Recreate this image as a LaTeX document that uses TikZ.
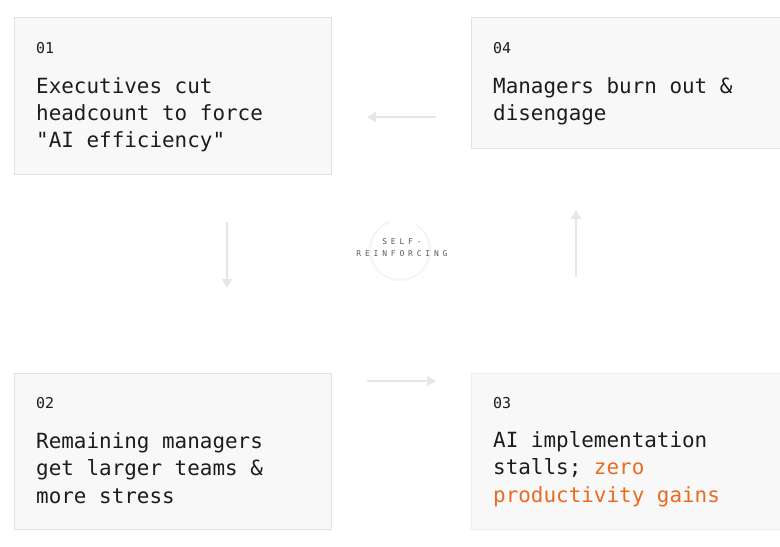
\documentclass[tikz,border=0pt]{standalone}
\usepackage{fontspec}
\setmonofont{DejaVu Sans Mono}
\newfontfamily\tagfont[LetterSpace=48]{DejaVu Sans Mono}
\usetikzlibrary{arrows.meta}
\definecolor{boxfill}{HTML}{F8F8F8}
\definecolor{boxline}{HTML}{E2E2E2}
\definecolor{boxlinefaint}{HTML}{EEEEEE}
\definecolor{ink}{HTML}{1C1C1C}
\definecolor{accent}{HTML}{EA6A1E}
\definecolor{arrowc}{HTML}{E6E6E6}
\definecolor{ringc}{HTML}{F5F5F5}
\definecolor{muted}{HTML}{5A5A5A}
\begin{document}
\begin{tikzpicture}[x=1bp,y=-1bp,
  card/.style={draw=boxline, fill=boxfill, line width=1bp},
  num/.style={anchor=base west, inner sep=0pt, font=\ttfamily\fontsize{15}{16}\selectfont, text=ink},
  body/.style={anchor=base west, inner sep=0pt, font=\ttfamily\fontsize{21}{27.5}\selectfont, text=ink, align=left},
  flow/.style={draw=arrowc, line width=2bp, -{Triangle[length=9bp,width=10bp]}},
  tag/.style={inner sep=0pt, font=\tagfont\fontsize{8}{12}\selectfont, text=muted, align=center}]
\useasboundingbox (0,0) rectangle (780,547);
\clip (0,0) rectangle (780,547);
% cards
\path[card] (14,18) rectangle (331,175) node[pos=0.5] (c1) {};
\path[card] (471,18) rectangle (800,149) node[pos=0.5] (c4) {};
\path[card] (14,373) rectangle (331,529) node[pos=0.5] (c2) {};
\path[card, draw=boxlinefaint] (471,373) rectangle (800,529) node[pos=0.5] (c3) {};
% numbers
\node[num] (n1) at (36,53.5) {01};
\node[num] (n4) at (493,53.5) {04};
\node[num] (n2) at (36,408.5) {02};
\node[num] (n3) at (493,408.5) {03};
% bodies (anchor = baseline of last line)
\node[body] (t1) at (36,148) {Executives cut\\headcount to force\\"AI efficiency"};
\node[body] (t4) at (493,120.5) {Managers burn out \&\\disengage};
\node[body] (t2) at (36,503) {Remaining managers\\get larger teams \&\\more stress};
\node[body] (t3) at (493,502) {AI implementation\\stalls; \textcolor{accent}{zero}\\\textcolor{accent}{productivity gains}};
% centre
\coordinate (cen) at (400,250);
\draw[ringc, line width=2bp] (cen) ++(-60:30) arc[start angle=-60, end angle=250, radius=30];
\node[tag] (tg) at (402,248) {SELF-\\REINFORCING};
% connectors
\coordinate (a1s) at (436,117); \coordinate (a1e) at (367,117);
\coordinate (a2s) at (227,222); \coordinate (a2e) at (227,288);
\coordinate (a3s) at (367,381); \coordinate (a3e) at (436,381);
\coordinate (a4s) at (576,277); \coordinate (a4e) at (576,210);
\draw[flow] (a1s) -- (a1e);
\draw[flow] (a2s) -- (a2e);
\draw[flow] (a3s) -- (a3e);
\draw[flow] (a4s) -- (a4e);
\end{tikzpicture}
\end{document}
